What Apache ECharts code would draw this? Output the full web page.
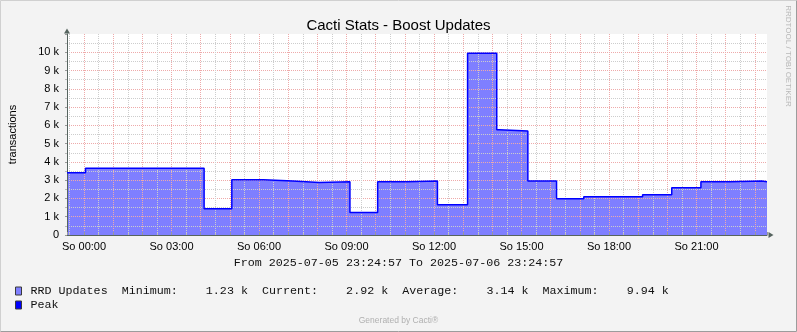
<!DOCTYPE html>
<html><head><meta charset="utf-8">
<script src="https://cdn.jsdelivr.net/npm/echarts@6/dist/echarts.min.js"></script>
<style>html,body{margin:0;padding:0;background:#f3f3f3}#c{width:797px;height:332px}</style>
</head><body><div id="c"></div>
<script>
// ---- data ----
const titleText = 'Cacti Stats - Boost Updates';
const startTime = '2025-07-05 23:24:57';
const endTime = '2025-07-06 23:24:57';
const stepTimes = ['2025-07-05 23:24:57','2025-07-06 00:03','2025-07-06 04:07','2025-07-06 05:04','2025-07-06 06:09',
  '2025-07-06 07:09','2025-07-06 08:04','2025-07-06 09:07','2025-07-06 10:04','2025-07-06 11:04','2025-07-06 12:07',
  '2025-07-06 13:09','2025-07-06 14:09','2025-07-06 14:14','2025-07-06 15:13','2025-07-06 16:12','2025-07-06 17:08',
  '2025-07-06 19:09','2025-07-06 20:09','2025-07-06 21:09','2025-07-06 22:09','2025-07-06 23:14','2025-07-06 23:24:57'];
const stepValues = [3400,3650,1440,3020,2960,2870,2910,1230,2910,2960,1650,9940,5760,5690,2960,1980,2090,2200,2580,2910,2960,2920,2920];
const xTickHours = [0,3,6,9,12,15,18,21];
const xTickLabels = ['So 00:00','So 03:00','So 06:00','So 09:00','So 12:00','So 15:00','So 18:00','So 21:00'];
const yTickLabels = ['0','1 k','2 k','3 k','4 k','5 k','6 k','7 k','8 k','9 k','10 k'];
const seriesNames = ['RRD Updates','Peak'];
const statNames = ['Minimum:','Current:','Average:','Maximum:'];
const statValues = ['1.23 k','2.92 k','3.14 k','9.94 k'];
const rangeText = 'From 2025-07-05 23:24:57 To 2025-07-06 23:24:57';

// hours relative to 2025-07-06 00:00
function toH(s){
  const day = parseInt(s.slice(8,10),10);
  const p = s.slice(11).split(':').map(Number);
  return (day-6)*24 + p[0] + (p[1]||0)/60 + (p[2]||0)/3600;
}
const data = stepTimes.map((t,i)=>[toH(t), stepValues[i]]);

let statLine = seriesNames[0] + '  ';
statNames.forEach((n,i)=>{ statLine += n + '    ' + statValues[i] + (i<statNames.length-1 ? '  ' : ''); });

const axisColor = '#56645f';
const majorGrid = '#eeaaaa';
const minorGrid = '#cdcdcd';
const sans = 'Liberation Sans';
const mono = 'Liberation Mono';

const chart = echarts.init(document.getElementById('c'), null, {renderer:'canvas'});
chart.setOption({
  backgroundColor:'#f3f3f3',
  animation:false,
  title:{text:titleText, left:'center', top:13, textStyle:{fontFamily:sans, fontSize:15, fontWeight:'normal', color:'#000'}},
  grid:{left:67, right:30, top:34, bottom:97, show:true, backgroundColor:'#fff', borderWidth:0, outerBoundsMode:'none'},
  xAxis:{
    type:'value', min:toH(startTime), max:toH(endTime), splitNumber:24, minInterval:1, maxInterval:1, z:3,
    axisLine:{show:true, onZero:false, lineStyle:{color:axisColor, width:1}, symbol:['none','triangle'], symbolSize:[6,5], symbolOffset:[0,4]},
    axisTick:{show:true, inside:true, length:3, lineStyle:{color:'#999'}},
    minorTick:{show:true, splitNumber:2, length:2, lineStyle:{color:'#bbb'}},
    splitLine:{show:true, showMinLine:false, showMaxLine:false, lineStyle:{color:majorGrid, type:[1,1], width:1}},
    minorSplitLine:{show:true, lineStyle:{color:minorGrid, type:[1,1], width:1}},
    axisLabel:{
      showMinLabel:false, showMaxLabel:false, margin:6, fontFamily:sans, fontSize:11, color:'#000',
      formatter:function(v){
        const r = Math.round(v);
        if (Math.abs(v-r)>1e-6) return '';
        const k = xTickHours.indexOf(r);
        return k<0 ? '' : xTickLabels[k];
      }
    }
  },
  yAxis:{
    type:'value', min:0, max:11000, interval:1000, z:3,
    axisLine:{show:true, onZero:false, lineStyle:{color:axisColor, width:1}, symbol:['none','triangle'], symbolSize:[6,5], symbolOffset:[0,3]},
    axisTick:{show:true, length:2, lineStyle:{color:'#999'}},
    minorTick:{show:true, splitNumber:2, length:2, lineStyle:{color:'#bbb'}},
    splitLine:{show:true, showMinLine:false, showMaxLine:false, lineStyle:{color:majorGrid, type:[1,1], width:1}},
    minorSplitLine:{show:true, lineStyle:{color:minorGrid, type:[1,1], width:1}},
    axisLabel:{showMaxLabel:false, margin:8, fontFamily:sans, fontSize:11, color:'#000',
      formatter:function(v){ const k=Math.round(v/1000); return yTickLabels[k]!==undefined ? yTickLabels[k] : ''; }},
    name:'transactions', nameLocation:'middle', nameGap:49,
    nameTextStyle:{fontFamily:sans, fontSize:11, color:'#000'}
  },
  legend:{
    left:15, top:284, padding:0, orient:'vertical', itemWidth:6, itemHeight:8, itemGap:0, icon:'rect', selectedMode:false,
    data:seriesNames,
    itemStyle:{borderColor:'#3a3a3a', borderWidth:1},
    textStyle:{fontFamily:mono, fontSize:11.7, color:'#111', padding:[0,0,0,4], lineHeight:14},
    formatter:function(name){ return name===seriesNames[0] ? statLine : name; }
  },
  series:[
    {type:'line', name:seriesNames[0], data:data, step:'end', symbol:'none', z:1, silent:true,
     lineStyle:{width:0, opacity:0}, itemStyle:{color:'#7f7fff'}, areaStyle:{color:'#7f7fff', opacity:1}},
    {type:'line', name:seriesNames[1], data:data, step:'end', symbol:'none', z:5, silent:true,
     lineStyle:{width:1.5, color:'#0000ff'}, itemStyle:{color:'#0000ff'}}
  ],
  graphic:[
    {type:'polyline', shape:{points:[[0.5,331.5],[0.5,0.5],[796.5,0.5]]}, style:{stroke:'#d0d0d0', fill:null, lineWidth:1}, silent:true},
    {type:'polyline', shape:{points:[[0.5,331.5],[796.5,331.5],[796.5,0.5]]}, style:{stroke:'#9c9c9c', fill:null, lineWidth:1}, silent:true},
    {type:'text', x:398.5, y:263, style:{text:rangeText, font:'11.7px "Liberation Mono"', fill:'#111', align:'center', verticalAlign:'middle'}, silent:true},
    {type:'text', x:398.5, y:321, style:{text:'Generated by Cacti®', font:'8.5px "Liberation Sans"', fill:'#b0b0b0', align:'center', verticalAlign:'middle'}, silent:true},
    {type:'text', x:788, y:56, rotation:-Math.PI/2, style:{text:'RRDTOOL / TOBI OETIKER', font:'8px "Liberation Sans"', fill:'#b8b8b8', align:'center', verticalAlign:'middle'}, silent:true}
  ]
});
</script></body></html>
